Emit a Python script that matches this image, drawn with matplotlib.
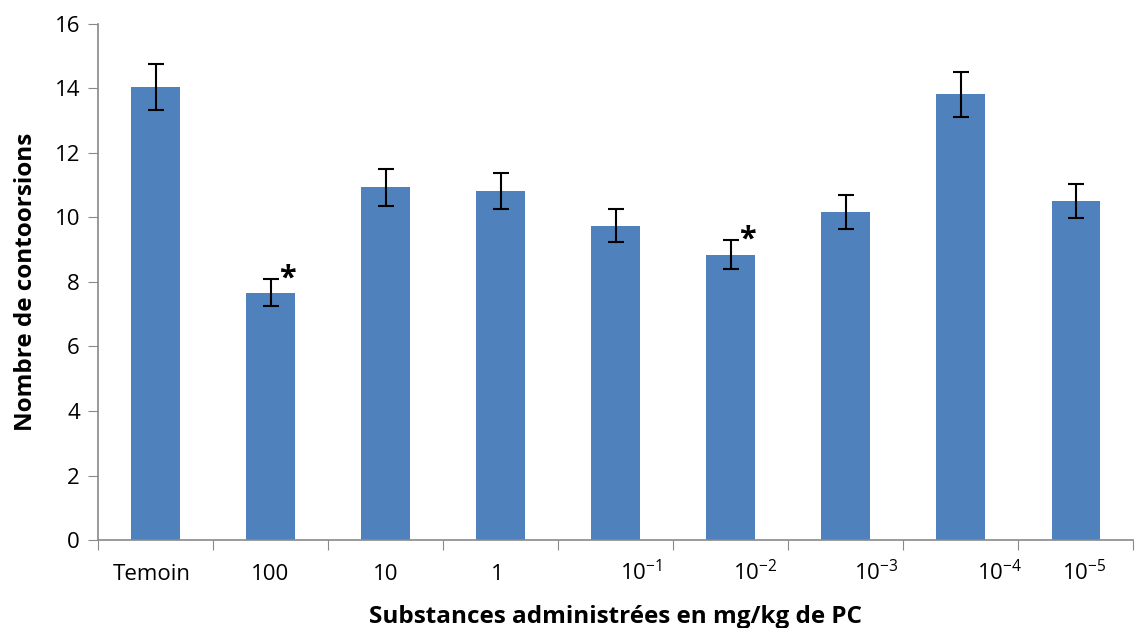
import matplotlib.pyplot as plt
import matplotlib.transforms as mtransforms

plt.rcParams['font.family'] = ['Open Sans', 'DejaVu Sans']
plt.rcParams['mathtext.fontset'] = 'custom'
plt.rcParams['mathtext.rm'] = 'Open Sans'
plt.rcParams['mathtext.it'] = 'Open Sans'

categories = ["Temoin", "100", "10", "1", "10$^{-1}$", "10$^{-2}$",
              "10$^{-3}$", "10$^{-4}$", "10$^{-5}$"]
values = [14.05, 7.66, 10.93, 10.82, 9.75, 8.84, 10.17, 13.82, 10.51]
errors = [0.72, 0.42, 0.56, 0.56, 0.5, 0.45, 0.52, 0.7, 0.52]
significant = [False, True, False, False, False, True, False, False, False]

# label nudges (points) as in the original layout
label_shift = [-3, 0, 0, -2, 18, 18, 22, 28, 6]

fig = plt.figure(figsize=(11.4, 6.28), dpi=100)
ax = fig.add_axes([0.086, 0.140, 0.908, 0.822])

x = list(range(len(categories)))
ax.bar(x, values, width=0.42, color="#4F81BD", zorder=2)
ax.errorbar(x, values, yerr=errors, fmt="none", ecolor="black",
            elinewidth=1.5, capsize=6, capthick=1.5, zorder=3)

for xi, v, e, s in zip(x, values, errors, significant):
    if s:
        ax.text(xi + 0.07, v + e - 0.45, "*", fontsize=22, fontweight="bold",
                ha="left", va="bottom")

ax.set_xlim(-0.5, len(categories) - 0.5)
ax.set_ylim(0, 16)
ax.set_yticks(range(0, 17, 2))

ax.set_xticks([i - 0.5 for i in range(len(categories) + 1)])
ax.set_xticklabels([])
ax.set_xticks(x, minor=True)
ax.set_xticklabels(categories, minor=True, fontsize=16)
ax.tick_params(axis="x", which="minor", length=0, pad=29)
ax.tick_params(axis="x", which="major", length=7, color="#898989", direction="out")
ax.tick_params(axis="y", length=7, color="#898989", labelsize=16, pad=6)

for lbl, dx in zip(ax.get_xticklabels(minor=True), label_shift):
    lbl.set_verticalalignment("baseline")
    lbl.set_transform(lbl.get_transform() +
                      mtransforms.ScaledTranslation(dx / 72, 0, fig.dpi_scale_trans))

for side in ["top", "right"]:
    ax.spines[side].set_visible(False)
for side in ["left", "bottom"]:
    ax.spines[side].set_color("#898989")
    ax.spines[side].set_linewidth(1.2)

ax.set_xlabel("Substances administrées en mg/kg de PC", fontsize=17.5,
              fontweight="bold", labelpad=14)
ax.set_ylabel("Nombre de contoorsions", fontsize=17.5, fontweight="bold", labelpad=12)

fig.savefig("out.png", dpi=100)
